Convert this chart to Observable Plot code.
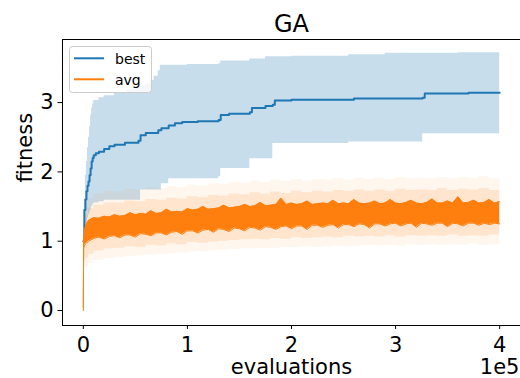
<!DOCTYPE html>
<html><head><meta charset="utf-8">
<script src="https://cdn.jsdelivr.net/npm/d3@7"></script>
<script src="https://cdn.jsdelivr.net/npm/@observablehq/plot@0.6"></script>
<style>
html,body{margin:0;padding:0;background:#fff;}
#chart{width:520px;height:378px;overflow:hidden;}
</style></head><body><div id="chart"></div>
<script>
// ---- text ----
const titleText = "GA";
const xLabel = "evaluations";
const yLabel = "fitness";
const xOffsetLabel = "1e5";
const xTicks = [0, 100000, 200000, 300000, 400000];
const xTickLabels = ["0", "1", "2", "3", "4"];
const yTicks = [0, 1, 2, 3];
const yTickLabels = ["0", "1", "2", "3"];
const seriesNames = ["best", "avg"];
const seriesColors = ["#1f77b4", "#ff7f0e"];

// ---- best (step line) ----
const bestX = [0, 1000, 2000, 3000, 4000, 5000, 6000, 7000, 8000, 9000, 10000, 12000, 15000, 20000, 25000, 30000, 40000, 53000, 55000, 60000, 72000, 75000, 82000, 88000, 95000, 110000, 130000, 132000, 140000, 160000, 162000, 175000, 182000, 184000, 200000, 260000, 326000, 328000, 370000, 400000];
const bestY = [1.0, 1.45, 1.6, 1.72, 1.8, 1.86, 1.95, 2.05, 2.15, 2.2, 2.24, 2.27, 2.29, 2.33, 2.37, 2.39, 2.42, 2.45, 2.53, 2.56, 2.6, 2.63, 2.67, 2.70, 2.72, 2.73, 2.75, 2.82, 2.84, 2.86, 2.92, 2.95, 2.97, 3.03, 3.04, 3.06, 3.07, 3.13, 3.14, 3.14];

// ---- best band ----
const bandX = [0, 1000, 2000, 3000, 4000, 5000, 6000, 7000, 8000, 9000, 10000, 15000, 20000, 30000, 42000, 50000, 55000, 60000, 64000, 68000, 72000, 74000, 75000, 82000, 100000, 130000, 132000, 160000, 175000, 182000, 200000, 255000, 290000, 326000, 360000, 400000];
const bandHi = [1.0, 1.6, 1.95, 2.15, 2.35, 2.5, 2.65, 2.82, 2.92, 2.98, 3.03, 3.07, 3.1, 3.14, 3.19, 3.22, 3.24, 3.27, 3.32, 3.38, 3.46, 3.54, 3.54, 3.54, 3.55, 3.56, 3.6, 3.63, 3.66, 3.66, 3.67, 3.69, 3.71, 3.71, 3.72, 3.72];
const bandLo = [1.0, 1.1, 1.2, 1.27, 1.33, 1.38, 1.42, 1.46, 1.5, 1.53, 1.55, 1.57, 1.59, 1.59, 1.59, 1.59, 1.74, 1.74, 1.74, 1.74, 1.74, 1.74, 1.83, 1.9, 1.9, 1.93, 2.05, 2.19, 2.19, 2.41, 2.41, 2.43, 2.43, 2.55, 2.55, 2.55];

// ---- avg spread (light orange) ----
const lightX = [0, 500, 2000, 5000, 10000, 20000, 30000, 40000, 50000, 60000, 70000, 80000, 90000, 100000, 110000, 120000, 130000, 140000, 150000, 160000, 170000, 180000, 190000, 200000, 210000, 220000, 230000, 240000, 250000, 260000, 270000, 280000, 290000, 300000, 310000, 320000, 330000, 340000, 350000, 360000, 370000, 380000, 390000, 400000];
const innerHi = [0.02, 1.28, 1.38, 1.47, 1.52, 1.55, 1.55, 1.58, 1.57, 1.60, 1.59, 1.62, 1.61, 1.64, 1.63, 1.66, 1.65, 1.68, 1.67, 1.70, 1.68, 1.71, 1.69, 1.72, 1.70, 1.72, 1.71, 1.73, 1.72, 1.74, 1.72, 1.74, 1.72, 1.75, 1.73, 1.74, 1.73, 1.76, 1.73, 1.75, 1.74, 1.76, 1.73, 1.75];
const innerLo = [0, 0.72, 0.75, 0.81, 0.86, 0.89, 0.90, 0.92, 0.91, 0.94, 0.93, 0.96, 0.95, 0.98, 0.97, 0.99, 1.00, 1.01, 1.02, 1.03, 1.02, 1.04, 1.03, 1.05, 1.04, 1.05, 1.06, 1.05, 1.07, 1.06, 1.07, 1.06, 1.08, 1.06, 1.08, 1.07, 1.08, 1.07, 1.09, 1.07, 1.08, 1.07, 1.09, 1.07];
const outerHi = [0.02, 1.42, 1.55, 1.62, 1.68, 1.72, 1.71, 1.75, 1.74, 1.77, 1.76, 1.79, 1.78, 1.81, 1.80, 1.83, 1.82, 1.85, 1.84, 1.87, 1.85, 1.88, 1.86, 1.89, 1.87, 1.89, 1.88, 1.90, 1.88, 1.91, 1.89, 1.91, 1.89, 1.92, 1.90, 1.91, 1.90, 1.92, 1.90, 1.92, 1.91, 1.93, 1.90, 1.92];
const outerLo = [0, 0.6, 0.62, 0.68, 0.72, 0.75, 0.77, 0.78, 0.79, 0.80, 0.81, 0.82, 0.83, 0.84, 0.85, 0.86, 0.87, 0.88, 0.89, 0.89, 0.90, 0.90, 0.91, 0.91, 0.92, 0.91, 0.92, 0.93, 0.92, 0.93, 0.94, 0.93, 0.94, 0.93, 0.95, 0.94, 0.95, 0.94, 0.95, 0.94, 0.96, 0.94, 0.95, 0.94];

// ---- avg (noisy line, drawn as its min/max envelope) ----
const avgX = [0, 300, 1500, 3000,
  5000, 10000, 15000, 20000, 25000, 30000, 35000, 40000, 45000, 50000,
  55000, 60000, 65000, 70000, 75000, 80000, 85000, 90000, 95000, 100000,
  105000, 110000, 115000, 120000, 125000, 130000, 135000, 140000, 145000, 150000,
  155000, 160000, 165000, 170000, 175000, 180000, 185000, 190000, 195000, 200000,
  205000, 210000, 215000, 220000, 225000, 230000, 235000, 240000, 245000, 250000,
  255000, 260000, 265000, 270000, 275000, 280000, 285000, 290000, 295000, 300000,
  305000, 310000, 315000, 320000, 325000, 330000, 335000, 340000, 345000, 350000,
  355000, 360000, 365000, 370000, 375000, 380000, 385000, 390000, 395000, 400000];
const avgHi = [0.05, 1.02, 1.18, 1.25,
  1.30, 1.34, 1.33, 1.36, 1.35, 1.38, 1.36, 1.37, 1.41, 1.38,
  1.40, 1.39, 1.44, 1.40, 1.41, 1.46, 1.42, 1.43, 1.42, 1.47,
  1.45, 1.46, 1.50, 1.46, 1.47, 1.48, 1.52, 1.48, 1.49, 1.50,
  1.53, 1.50, 1.51, 1.56, 1.51, 1.52, 1.53, 1.62, 1.53, 1.55,
  1.53, 1.54, 1.58, 1.53, 1.54, 1.55, 1.54, 1.59, 1.54, 1.55,
  1.54, 1.60, 1.55, 1.54, 1.55, 1.58, 1.54, 1.55, 1.60, 1.55,
  1.54, 1.56, 1.59, 1.55, 1.54, 1.56, 1.61, 1.55, 1.55, 1.58,
  1.55, 1.64, 1.55, 1.56, 1.59, 1.55, 1.56, 1.60, 1.55, 1.57];
const avgLo = [0, 0.90, 0.95, 0.97,
  1.00, 1.04, 1.06, 1.03, 1.07, 1.08, 1.05, 1.09, 1.09, 1.06,
  1.11, 1.10, 1.08, 1.12, 1.12, 1.09, 1.13, 1.14, 1.10, 1.15,
  1.15, 1.12, 1.16, 1.17, 1.13, 1.18, 1.17, 1.14, 1.19, 1.18,
  1.15, 1.20, 1.19, 1.16, 1.21, 1.20, 1.17, 1.21, 1.22, 1.18,
  1.22, 1.22, 1.17, 1.23, 1.23, 1.20, 1.23, 1.24, 1.19, 1.24,
  1.24, 1.21, 1.25, 1.24, 1.19, 1.25, 1.25, 1.22, 1.25, 1.26,
  1.22, 1.25, 1.26, 1.20, 1.26, 1.25, 1.23, 1.26, 1.26, 1.21,
  1.26, 1.25, 1.22, 1.26, 1.26, 1.23, 1.26, 1.24, 1.26, 1.25];

const bestRows = bestX.map((x, i) => ({x, y: bestY[i]}));
const bandRows = bandX.map((x, i) => ({x, hi: bandHi[i], lo: bandLo[i]}));
const lightRows = lightX.map((x, i) => ({x, ihi: innerHi[i], ilo: innerLo[i], ohi: outerHi[i], olo: outerLo[i]}));
const avgRows = avgX.map((x, i) => ({x, hi: avgHi[i], lo: avgLo[i]}));

const FONT = "'DejaVu Sans', 'Liberation Sans', sans-serif";

const plot = Plot.plot({
  width: 520, height: 378,
  marginLeft: 62, marginRight: 0, marginTop: 39, marginBottom: 53,
  style: {fontFamily: FONT, fontSize: "21px", color: "#000", background: "#fff", overflow: "visible"},
  x: {domain: [-20000, 420000]},
  y: {domain: [-0.216, 3.91]},
  marks: [
    Plot.areaY(bandRows, {x: "x", y1: "lo", y2: "hi", curve: "step-after", fill: seriesColors[0], fillOpacity: 0.25}),
    Plot.areaY(lightRows, {x: "x", y1: "olo", y2: "ohi", curve: "step-after", fill: seriesColors[1], fillOpacity: 0.07}),
    Plot.areaY(lightRows, {x: "x", y1: "ilo", y2: "ihi", curve: "step-after", fill: seriesColors[1], fillOpacity: 0.14}),
    Plot.line(bestRows, {x: "x", y: "y", curve: "step-after", stroke: seriesColors[0], strokeWidth: 2}),
    Plot.areaY(avgRows, {x: "x", y1: "lo", y2: "hi", curve: "linear", fill: seriesColors[1]}),
    Plot.line(avgRows, {x: "x", y: "lo", curve: "linear", stroke: seriesColors[1], strokeWidth: 1}),
    Plot.line(avgRows, {x: "x", y: "hi", curve: "linear", stroke: seriesColors[1], strokeWidth: 1}),
    Plot.frame({stroke: "#000", strokeWidth: 1}),
    Plot.axisX({ticks: xTicks, tickFormat: d => xTickLabels[xTicks.indexOf(d)], tickSize: 4, tickPadding: 7.5, label: null}),
    Plot.axisY({ticks: yTicks, tickFormat: d => yTickLabels[yTicks.indexOf(d)], tickSize: 4.5, tickPadding: 4.5, label: null}),
    Plot.text([titleText], {text: d => d, frameAnchor: "top", dy: -7.6, lineAnchor: "bottom", fontSize: 24}),
    Plot.text([xLabel], {text: d => d, frameAnchor: "bottom", dy: 48.5, lineAnchor: "bottom"}),
    Plot.text([xOffsetLabel], {text: d => d, frameAnchor: "bottom-right", dx: -1, dy: 48.5, lineAnchor: "bottom", textAnchor: "end"}),
    Plot.text([yLabel], {text: d => d, frameAnchor: "left", dx: -30.3, rotate: -90, lineAnchor: "bottom"})
  ]
});

// legend
const svg = d3.select(plot);
const lg = svg.append("g").attr("font-family", FONT).attr("font-size", 14).attr("text-anchor", "start");
lg.append("rect").attr("x", 69.5).attr("y", 46.5).attr("width", 82).attr("height", 46)
  .attr("rx", 3).attr("fill", "#fff").attr("fill-opacity", 0.8).attr("stroke", "#cccccc");
seriesNames.forEach((name, i) => {
  lg.append("line").attr("x1", 74).attr("x2", 104).attr("y1", 58.3 + i * 21).attr("y2", 58.3 + i * 21)
    .attr("stroke", seriesColors[i]).attr("stroke-width", 2);
  lg.append("text").attr("x", 115).attr("y", 63.8 + i * 21).attr("fill", "#000").attr("text-anchor", "start").text(name);
});

document.getElementById("chart").appendChild(plot);
</script></body></html>
